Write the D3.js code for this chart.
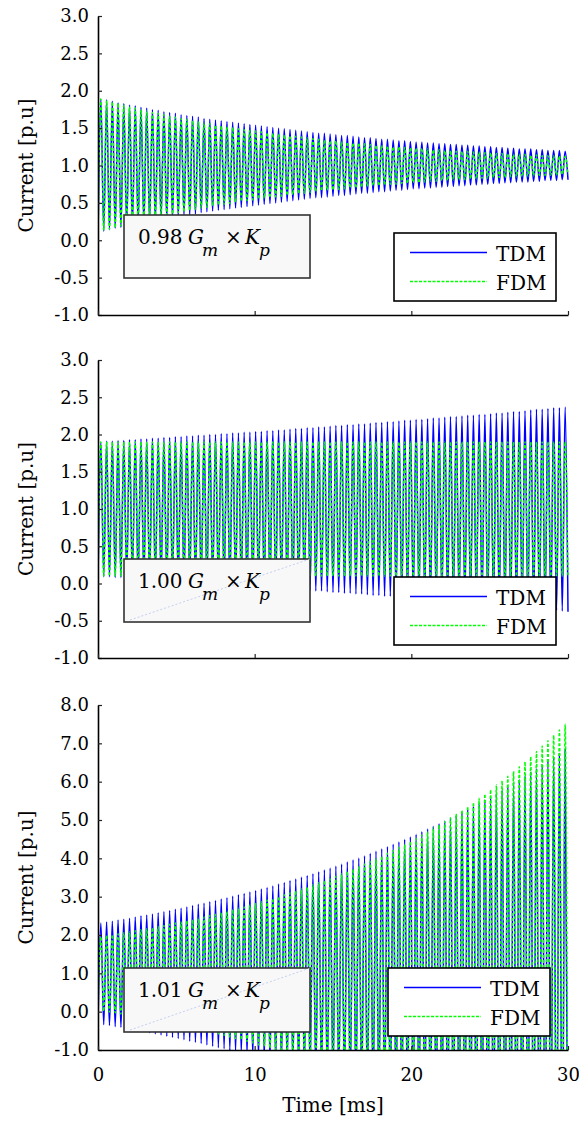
<!DOCTYPE html>
<html><head><meta charset="utf-8">
<script src="https://cdn.jsdelivr.net/npm/d3@7"></script>
<style>body{margin:0;background:#fff} svg{display:block} text{font-family:"DejaVu Serif",serif;fill:#000}</style>
</head><body><svg id="c" width="579" height="1122"></svg>
<script>
// ---------------- data ----------------
const timeRange = [0, 30];            // ms
const xTicks = [0, 10, 20, 30];
const yTicksSmall = [3.0, 2.5, 2.0, 1.5, 1.0, 0.5, 0.0, -0.5, -1.0];
const yTicksLarge = [8, 7, 6, 5, 4, 3, 2, 1, 0, -1];
const gainLabels = ["0.98", "1.00", "1.01"];
const seriesNames = ["TDM", "FDM"];

// per-cycle maxima (82 cycles) and minima (83, incl. end point)
const p1TdmPeaks = [1.89,1.88,1.86,1.84,1.83,1.81,1.80,1.78,1.77,1.75,1.74,1.72,1.71,1.70,1.68,1.67,1.66,1.65,1.63,1.62,1.61,1.60,1.59,1.58,1.57,1.56,1.55,1.54,1.53,1.52,1.51,1.50,1.49,1.48,1.47,1.46,1.45,1.44,1.43,1.43,1.42,1.41,1.40,1.40,1.39,1.38,1.37,1.37,1.36,1.35,1.35,1.34,1.33,1.33,1.32,1.31,1.31,1.30,1.30,1.29,1.29,1.28,1.28,1.27,1.27,1.26,1.26,1.25,1.25,1.24,1.24,1.23,1.23,1.22,1.22,1.22,1.21,1.21,1.20,1.20,1.20,1.19];
const p1TdmTroughs = [0.00,0.12,0.14,0.16,0.17,0.19,0.20,0.22,0.23,0.25,0.26,0.28,0.29,0.30,0.32,0.33,0.34,0.35,0.37,0.38,0.39,0.40,0.41,0.42,0.43,0.44,0.45,0.46,0.47,0.48,0.49,0.50,0.51,0.52,0.53,0.54,0.55,0.56,0.57,0.57,0.58,0.59,0.60,0.60,0.61,0.62,0.63,0.63,0.64,0.65,0.65,0.66,0.67,0.67,0.68,0.69,0.69,0.70,0.70,0.71,0.71,0.72,0.72,0.73,0.73,0.74,0.74,0.75,0.75,0.76,0.76,0.77,0.77,0.78,0.78,0.78,0.79,0.79,0.80,0.80,0.80,0.81,0.81];
const p1FdmPeaks = [1.89,1.87,1.85,1.83,1.81,1.79,1.77,1.75,1.73,1.71,1.70,1.68,1.66,1.65,1.63,1.62,1.60,1.59,1.57,1.56,1.54,1.53,1.52,1.51,1.49,1.48,1.47,1.46,1.45,1.44,1.43,1.42,1.41,1.40,1.39,1.38,1.37,1.36,1.35,1.34,1.33,1.33,1.32,1.31,1.30,1.30,1.29,1.28,1.27,1.27,1.26,1.25,1.25,1.24,1.24,1.23,1.23,1.22,1.21,1.21,1.20,1.20,1.19,1.19,1.19,1.18,1.18,1.17,1.17,1.16,1.16,1.16,1.15,1.15,1.15,1.14,1.14,1.13,1.13,1.13,1.13,1.12];
const p1FdmTroughs = [0.00,0.13,0.15,0.17,0.19,0.21,0.23,0.25,0.27,0.29,0.30,0.32,0.34,0.35,0.37,0.38,0.40,0.41,0.43,0.44,0.46,0.47,0.48,0.49,0.51,0.52,0.53,0.54,0.55,0.56,0.57,0.58,0.59,0.60,0.61,0.62,0.63,0.64,0.65,0.66,0.67,0.67,0.68,0.69,0.70,0.70,0.71,0.72,0.73,0.73,0.74,0.75,0.75,0.76,0.76,0.77,0.77,0.78,0.79,0.79,0.80,0.80,0.81,0.81,0.81,0.82,0.82,0.83,0.83,0.84,0.84,0.84,0.85,0.85,0.85,0.86,0.86,0.87,0.87,0.87,0.87,0.88,0.88];

const p2TdmPeaks = [1.90,1.91,1.91,1.92,1.92,1.93,1.93,1.94,1.94,1.95,1.95,1.96,1.96,1.97,1.97,1.98,1.98,1.99,1.99,2.00,2.00,2.01,2.01,2.02,2.02,2.03,2.03,2.04,2.04,2.05,2.05,2.06,2.06,2.07,2.08,2.08,2.09,2.09,2.10,2.10,2.11,2.12,2.12,2.13,2.13,2.14,2.14,2.15,2.16,2.16,2.17,2.17,2.18,2.19,2.19,2.20,2.20,2.21,2.22,2.22,2.23,2.24,2.24,2.25,2.26,2.26,2.27,2.27,2.28,2.29,2.29,2.30,2.31,2.31,2.32,2.33,2.34,2.34,2.35,2.36,2.36,2.37];
const p2TdmTroughs = [0.00,0.09,0.09,0.08,0.08,0.07,0.07,0.06,0.06,0.05,0.05,0.04,0.04,0.03,0.03,0.02,0.02,0.01,0.01,0.00,0.00,-0.01,-0.01,-0.02,-0.02,-0.03,-0.03,-0.04,-0.04,-0.05,-0.05,-0.06,-0.06,-0.07,-0.08,-0.08,-0.09,-0.09,-0.10,-0.10,-0.11,-0.12,-0.12,-0.13,-0.13,-0.14,-0.14,-0.15,-0.16,-0.16,-0.17,-0.17,-0.18,-0.19,-0.19,-0.20,-0.20,-0.21,-0.22,-0.22,-0.23,-0.24,-0.24,-0.25,-0.26,-0.26,-0.27,-0.27,-0.28,-0.29,-0.29,-0.30,-0.31,-0.31,-0.32,-0.33,-0.34,-0.34,-0.35,-0.36,-0.36,-0.37,-0.38];
const p2FdmPeaks = [1.90,1.90,1.90,1.90,1.90,1.90,1.90,1.90,1.90,1.90,1.90,1.90,1.90,1.90,1.90,1.90,1.90,1.90,1.90,1.90,1.90,1.90,1.90,1.90,1.90,1.90,1.90,1.90,1.90,1.90,1.90,1.90,1.90,1.90,1.90,1.90,1.90,1.90,1.90,1.90,1.90,1.90,1.90,1.90,1.90,1.90,1.90,1.90,1.90,1.90,1.90,1.90,1.90,1.90,1.90,1.90,1.90,1.90,1.90,1.90,1.90,1.90,1.90,1.90,1.90,1.90,1.90,1.90,1.90,1.90,1.90,1.90,1.90,1.90,1.90,1.90,1.90,1.90,1.90,1.90,1.90,1.90];
const p2FdmTroughs = [0.00,0.10,0.10,0.10,0.10,0.10,0.10,0.10,0.10,0.10,0.10,0.10,0.10,0.10,0.10,0.10,0.10,0.10,0.10,0.10,0.10,0.10,0.10,0.10,0.10,0.10,0.10,0.10,0.10,0.10,0.10,0.10,0.10,0.10,0.10,0.10,0.10,0.10,0.10,0.10,0.10,0.10,0.10,0.10,0.10,0.10,0.10,0.10,0.10,0.10,0.10,0.10,0.10,0.10,0.10,0.10,0.10,0.10,0.10,0.10,0.10,0.10,0.10,0.10,0.10,0.10,0.10,0.10,0.10,0.10,0.10,0.10,0.10,0.10,0.10,0.10,0.10,0.10,0.10,0.10,0.10,0.10,0.10];

const p3TdmPeaks = [2.31,2.34,2.36,2.39,2.41,2.44,2.47,2.50,2.52,2.55,2.58,2.61,2.64,2.67,2.70,2.73,2.77,2.80,2.83,2.87,2.90,2.94,2.97,3.01,3.05,3.08,3.12,3.16,3.20,3.24,3.28,3.33,3.37,3.42,3.46,3.51,3.55,3.60,3.65,3.70,3.75,3.80,3.85,3.91,3.96,4.01,4.07,4.13,4.19,4.25,4.31,4.37,4.43,4.50,4.56,4.63,4.70,4.77,4.84,4.91,4.98,5.05,5.13,5.21,5.28,5.36,5.45,5.53,5.61,5.70,5.78,5.88,5.97,6.06,6.15,6.25,6.35,6.45,6.55,6.65,6.75,6.86];
const p3TdmTroughs = [-0.31,-0.34,-0.36,-0.39,-0.41,-0.44,-0.47,-0.50,-0.52,-0.55,-0.58,-0.61,-0.64,-0.67,-0.70,-0.73,-0.77,-0.80,-0.83,-0.87,-0.90,-0.94,-0.97,-1.01,-1.05,-1.08,-1.12,-1.16,-1.20,-1.24,-1.28,-1.33,-1.37,-1.42,-1.46,-1.51,-1.55,-1.60,-1.65,-1.70,-1.75,-1.80,-1.85,-1.91,-1.96,-2.01,-2.07,-2.13,-2.19,-2.25,-2.31,-2.37,-2.43,-2.50,-2.56,-2.63,-2.70,-2.77,-2.84,-2.91,-2.98,-3.05,-3.13,-3.21,-3.28,-3.36,-3.45,-3.53,-3.61,-3.70,-3.78,-3.88,-3.97,-4.06,-4.15,-4.25,-4.35,-4.45,-4.55,-4.65,-4.75,-4.86,-4.97];
const p3FdmPeaks = [1.96,1.99,2.01,2.03,2.06,2.08,2.11,2.14,2.16,2.19,2.22,2.25,2.28,2.31,2.34,2.37,2.40,2.44,2.47,2.51,2.54,2.58,2.62,2.66,2.70,2.73,2.78,2.82,2.87,2.91,2.95,3.00,3.05,3.10,3.15,3.20,3.25,3.31,3.36,3.42,3.47,3.53,3.60,3.66,3.72,3.78,3.85,3.92,3.99,4.06,4.13,4.21,4.29,4.36,4.44,4.52,4.61,4.70,4.79,4.87,4.96,5.06,5.16,5.26,5.36,5.46,5.57,5.68,5.79,5.91,6.02,6.14,6.27,6.39,6.52,6.65,6.79,6.93,7.07,7.21,7.35,7.50];
const p3FdmTroughs = [0.04,0.01,-0.01,-0.03,-0.06,-0.08,-0.11,-0.14,-0.16,-0.19,-0.22,-0.25,-0.28,-0.31,-0.34,-0.37,-0.40,-0.44,-0.47,-0.51,-0.54,-0.58,-0.62,-0.66,-0.70,-0.73,-0.78,-0.82,-0.87,-0.91,-0.95,-1.00,-1.05,-1.10,-1.15,-1.20,-1.25,-1.31,-1.36,-1.42,-1.47,-1.53,-1.60,-1.66,-1.72,-1.78,-1.85,-1.92,-1.99,-2.06,-2.13,-2.21,-2.29,-2.36,-2.44,-2.52,-2.61,-2.70,-2.79,-2.87,-2.96,-3.06,-3.16,-3.26,-3.36,-3.46,-3.57,-3.68,-3.79,-3.91,-4.02,-4.14,-4.27,-4.39,-4.52,-4.65,-4.79,-4.93,-5.07,-5.21,-5.35,-5.50,-5.66];

// ---------------- layout ----------------
const svg = d3.select("#c");
const X0 = 98, X1 = 568;
const x = d3.scaleLinear().domain(timeRange).range([X0, X1]);
const BLUE = "#0000ff", GREEN = "#00ff00";

const panels = [
  {top:16, bottom:315, domain:[-1,3], ticks:yTicksSmall, gain:gainLabels[0],
   tdm:[p1TdmPeaks,p1TdmTroughs], fdm:[p1FdmPeaks,p1FdmTroughs],
   legend:[394,233], box:[124,215,186,63], diag:false, xLabels:false},
  {top:360, bottom:658, domain:[-1,3], ticks:yTicksSmall, gain:gainLabels[1],
   tdm:[p2TdmPeaks,p2TdmTroughs], fdm:[p2FdmPeaks,p2FdmTroughs],
   legend:[394,577], box:[124,559,186,63], diag:true, xLabels:false},
  {top:705, bottom:1050, domain:[-1,8], ticks:yTicksLarge, gain:gainLabels[2],
   tdm:[p3TdmPeaks,p3TdmTroughs], fdm:[p3FdmPeaks,p3FdmTroughs],
   legend:[388,968], box:[124,968,186,64], diag:true, xLabels:true}
];

function wave(peaks, troughs){
  const T = (timeRange[1]-timeRange[0]) / peaks.length;
  const pts = [];
  peaks.forEach((p,k)=>{ pts.push([timeRange[0]+k*T, troughs[k]]); pts.push([timeRange[0]+(k+0.5)*T, p]); });
  pts.push([timeRange[1], troughs[peaks.length]]);
  return pts;
}

panels.forEach((p, i) => {
  const y = d3.scaleLinear().domain(p.domain).range([p.bottom, p.top]);
  const g = svg.append("g");
  const clipId = "clip" + i;
  svg.append("clipPath").attr("id", clipId).append("rect")
    .attr("x", X0).attr("y", p.top).attr("width", X1 - X0 + 2).attr("height", p.bottom - p.top);

  const line = d3.line().x(d => x(d[0])).y(d => y(d[1])).curve(d3.curveMonotoneX);
  const dg = g.append("g").attr("clip-path", `url(#${clipId})`);
  dg.append("path").attr("d", line(wave(p.tdm[0], p.tdm[1])))
    .attr("fill","none").attr("stroke",BLUE).attr("stroke-width",1.5);
  dg.append("path").attr("d", line(wave(p.fdm[0], p.fdm[1])))
    .attr("fill","none").attr("stroke",GREEN).attr("stroke-width",1.5).attr("stroke-dasharray","3,2");

  // axes
  const ya = g.append("g").attr("transform", `translate(${X0},0)`)
    .call(d3.axisLeft(y).tickValues(p.ticks).tickFormat(d => d.toFixed(1))
      .tickSizeInner(-4).tickSizeOuter(0).tickPadding(9));
  const xa = g.append("g").attr("transform", `translate(0,${p.bottom})`)
    .call(d3.axisBottom(x).tickValues(xTicks).tickFormat(d => p.xLabels ? d : "")
      .tickSizeInner(-4).tickSizeOuter(0).tickPadding(18));
  [ya, xa].forEach(a => {
    a.attr("font-family", null).attr("font-size", null);
    a.select(".domain").attr("stroke", "#000").attr("stroke-width", 1.6);
    a.selectAll(".tick line").attr("stroke", "#222").attr("stroke-width", 1.2);
    a.selectAll(".tick text").attr("font-size", 18).attr("fill", "#000");
  });
  xa.selectAll(".tick text").attr("dy", "0.71em");

  // y label
  g.append("text").attr("transform", `translate(33,${(p.top + p.bottom)/2}) rotate(-90)`)
    .attr("text-anchor","middle").attr("font-size",20).text("Current [p.u]");

  // annotation box
  const [bx, by, bw, bh] = p.box;
  g.append("rect").attr("x",bx).attr("y",by).attr("width",bw).attr("height",bh)
    .attr("fill","#f8f8f8").attr("stroke","#333").attr("stroke-width",1.6);
  if (p.diag) {
    g.append("line").attr("x1",bx+6).attr("y1",by+bh-2).attr("x2",bx+bw).attr("y2",by)
      .attr("stroke","#b8c4ec").attr("stroke-width",0.8).attr("stroke-dasharray","2,2");
  }
  const base = by + 29;
  g.append("text").attr("x",bx+14).attr("y",base).attr("font-size",20).text(p.gain);
  g.append("text").attr("x",bx+64).attr("y",base).attr("font-size",20).attr("font-style","italic").text("G");
  g.append("text").attr("x",bx+78).attr("y",base+12).attr("font-size",17).attr("font-style","italic").text("m");
  g.append("text").attr("x",bx+101).attr("y",base).attr("font-size",20).text("×");
  g.append("text").attr("x",bx+121).attr("y",base).attr("font-size",20).attr("font-style","italic").text("K");
  g.append("text").attr("x",bx+135).attr("y",base+12).attr("font-size",17).attr("font-style","italic").text("p");

  // legend
  const [lx, ly] = p.legend;
  const lg = g.append("g");
  lg.append("rect").attr("x",lx).attr("y",ly).attr("width",162).attr("height",68)
    .attr("fill","#fff").attr("stroke","#000").attr("stroke-width",1.6);
  const items = [{name:seriesNames[0], color:BLUE, dash:null, dy:19.5},
                 {name:seriesNames[1], color:GREEN, dash:"3,1.5", dy:48.5}];
  items.forEach(it => {
    lg.append("line").attr("x1",lx+16).attr("x2",lx+93).attr("y1",ly+it.dy).attr("y2",ly+it.dy)
      .attr("stroke",it.color).attr("stroke-width",1.5).attr("stroke-dasharray",it.dash);
    lg.append("text").attr("x",lx+102).attr("y",ly+it.dy+8).attr("font-size",20).text(it.name);
  });
});

// x label
svg.append("text").attr("x", (X0+X1)/2).attr("y", 1112).attr("text-anchor","middle")
  .attr("font-size",20).text("Time [ms]");
</script></body></html>
